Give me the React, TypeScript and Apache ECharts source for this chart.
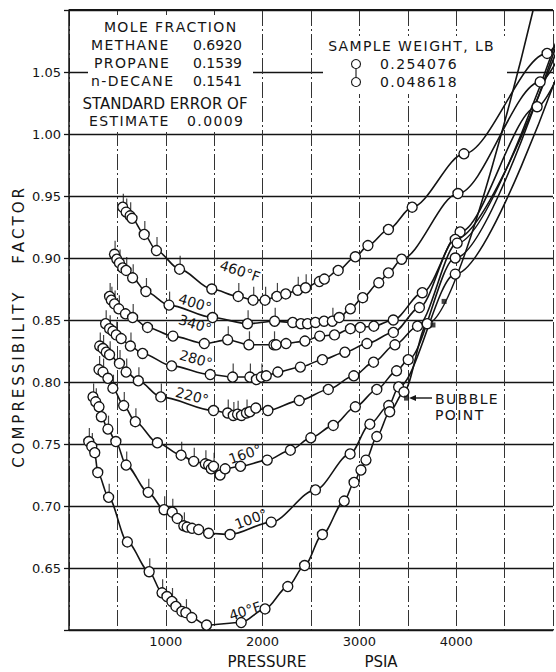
import React, { useEffect, useRef } from "react";
import * as echarts from "echarts";

// [pressure psia, compressibility factor, flag] flag: 0 = circle (0.254076 lb), 1 = flagged circle (0.048618 lb), 2 = line only
const T460: number[][] = [
  [555, 0.941, 1], [590, 0.937, 1], [631, 0.934, 1], [651, 0.932, 0], [777, 0.919, 1], [903, 0.906, 1],
  [1142, 0.891, 1], [1475, 0.875, 0], [1748, 0.869, 1], [1902, 0.866, 1], [2025, 0.866, 1], [2147, 0.869, 1],
  [2239, 0.871, 0], [2362, 0.874, 1], [2444, 0.876, 1], [2587, 0.881, 0], [2638, 0.883, 0], [2781, 0.89, 0],
  [2958, 0.901, 0], [3088, 0.91, 0], [3300, 0.923, 0], [3545, 0.941, 0], [4080, 0.984, 0], [4939, 1.065, 0],
  [5100, 1.082, 2],
];
const T400: number[][] = [
  [470, 0.903, 1], [494, 0.899, 0], [521, 0.896, 1], [555, 0.892, 0], [590, 0.89, 1], [657, 0.884, 1],
  [794, 0.873, 1], [1033, 0.862, 1], [1483, 0.852, 0], [1844, 0.847, 1], [2124, 0.849, 1], [2311, 0.848, 0],
  [2396, 0.847, 0], [2464, 0.847, 0], [2546, 0.848, 0], [2635, 0.849, 0], [2720, 0.849, 1], [2791, 0.852, 0],
  [2907, 0.859, 0], [3034, 0.868, 0], [3200, 0.88, 0], [3300, 0.888, 0], [3436, 0.899, 0], [4018, 0.952, 0],
  [4867, 1.042, 0], [5100, 1.068, 2],
];
const T340: number[][] = [
  [419, 0.869, 1], [437, 0.866, 1], [470, 0.863, 1], [514, 0.859, 1], [583, 0.855, 0], [657, 0.852, 1],
  [811, 0.844, 0], [1074, 0.837, 0], [1398, 0.831, 0], [1639, 0.834, 1], [1858, 0.83, 1], [2117, 0.83, 1],
  [2140, 0.83, 0], [2242, 0.831, 0], [2437, 0.833, 0], [2590, 0.837, 0], [2743, 0.838, 0], [2907, 0.843, 0],
  [3009, 0.844, 0], [3149, 0.845, 0], [3350, 0.85, 0], [3650, 0.872, 0], [4040, 0.921, 0], [4836, 1.022, 0],
  [5100, 1.055, 2],
];
const T280: number[][] = [
  [378, 0.847, 1], [419, 0.843, 1], [453, 0.841, 0], [488, 0.838, 1], [539, 0.835, 0], [634, 0.829, 1],
  [760, 0.823, 0], [1060, 0.813, 0], [1459, 0.806, 0], [1690, 0.804, 1], [1868, 0.804, 1], [1936, 0.802, 0],
  [1987, 0.804, 1], [2038, 0.805, 0], [2157, 0.808, 0], [2390, 0.812, 0], [2618, 0.818, 0], [2850, 0.824, 0],
  [3078, 0.831, 0], [3351, 0.84, 0], [3620, 0.86, 0], [3990, 0.915, 0], [5100, 1.08, 2],
];
const T220: number[][] = [
  [317, 0.829, 1], [351, 0.827, 1], [385, 0.824, 0], [419, 0.822, 1], [521, 0.815, 1], [590, 0.808, 1],
  [716, 0.801, 1], [948, 0.788, 1], [1493, 0.777, 0], [1639, 0.775, 1], [1697, 0.773, 1], [1741, 0.774, 1],
  [1782, 0.773, 0], [1833, 0.775, 1], [1868, 0.776, 0], [1930, 0.779, 0], [2055, 0.777, 0], [2379, 0.785, 0],
  [2679, 0.794, 0], [2942, 0.805, 0], [3146, 0.816, 0], [3367, 0.83, 0], [3600, 0.845, 0], [4010, 0.912, 0],
  [5100, 1.09, 2],
];
const T160: number[][] = [
  [310, 0.81, 1], [351, 0.808, 1], [402, 0.803, 0], [453, 0.795, 1], [565, 0.781, 1], [685, 0.768, 1],
  [913, 0.751, 0], [1158, 0.741, 1], [1288, 0.736, 1], [1408, 0.734, 1], [1442, 0.733, 0], [1469, 0.73, 0],
  [1493, 0.732, 1], [1561, 0.725, 0], [1613, 0.73, 0], [1772, 0.732, 0], [2048, 0.737, 0], [2287, 0.745, 0],
  [2498, 0.755, 0], [2730, 0.765, 0], [2958, 0.78, 0], [3180, 0.794, 0], [3384, 0.809, 0], [3504, 0.818, 0],
  [3990, 0.9, 0], [5100, 1.087, 2],
];
const T100: number[][] = [
  [248, 0.788, 1], [276, 0.784, 1], [310, 0.78, 0], [334, 0.772, 1], [402, 0.762, 1], [484, 0.752, 0],
  [590, 0.733, 1], [818, 0.711, 1], [982, 0.697, 1], [1066, 0.695, 1], [1118, 0.69, 0], [1186, 0.684, 1],
  [1220, 0.683, 0], [1271, 0.682, 0], [1339, 0.681, 0], [1442, 0.678, 0], [1664, 0.677, 0], [2089, 0.687, 0],
  [2546, 0.713, 0], [2904, 0.742, 0], [3108, 0.766, 0], [3303, 0.781, 0], [3405, 0.796, 0], [3990, 0.887, 0],
  [5100, 1.06, 2],
];
const T40: number[][] = [
  [204, 0.752, 1], [235, 0.748, 1], [266, 0.743, 0], [297, 0.727, 0], [409, 0.707, 1], [603, 0.671, 0],
  [828, 0.647, 1], [961, 0.63, 1], [1012, 0.627, 0], [1063, 0.623, 1], [1104, 0.619, 0], [1166, 0.615, 0],
  [1207, 0.614, 1], [1268, 0.61, 0], [1421, 0.604, 0], [1779, 0.606, 0], [2025, 0.617, 0], [2260, 0.635, 0],
  [2434, 0.652, 0], [2618, 0.677, 0], [2843, 0.704, 0], [2945, 0.719, 0], [3016, 0.729, 0], [3068, 0.737, 0],
  [3180, 0.756, 0], [3313, 0.776, 0], [3460, 0.792, 0], [3700, 0.847, 0], [4795, 1.1, 2],
];

const BUBBLE_POINTS: number[][] = [[3487, 0.787], [3760, 0.846], [3875, 0.865]];

const ISOTHERM_LABELS = ["460°F", "400°", "340°", "280°", "220°", "160°", "100°", "40°F"];

const MIXTURE_LINES = [
  ["METHANE", "0.6920"],
  ["PROPANE", "0.1539"],
  ["n-DECANE", "0.1541"],
];
const SAMPLE_WEIGHTS = ["0.254076", "0.048618"];

const FONT = '"DejaVu Sans", sans-serif';
const INK = "#141414";

const X0 = 69;
const Y0 = 10;
const PLOT_W = 489;
const PLOT_H = 620;

function txt(text: string, x: number, y: number, size: number, align = "center", rot = 0, z = 20) {
  return {
    type: "text",
    x,
    y,
    rotation: rot,
    z,
    silent: true,
    style: {
      text,
      x: 0,
      y: 0,
      fill: INK,
      fontSize: size,
      fontFamily: FONT,
      align,
      textAlign: align,
      verticalAlign: "middle",
      textVerticalAlign: "middle",
    },
  };
}

const thin = (s: string) => s.split("").join("\u2009");
const hair = (s: string) => s.split("").join("\u200A");

export default function App() {
  const ref = useRef<HTMLDivElement>(null);
  useEffect(() => {
    const chart = echarts.init(ref.current!, null, { renderer: "svg" });
    const isotherms = [T460, T400, T340, T280, T220, T160, T100, T40];
    const lineSeries = isotherms.map((iso, i) => ({
      type: "line",
      name: ISOTHERM_LABELS[i],
      smooth: 0.3,
      smoothMonotone: "x",
      showAllSymbol: true,
      symbol: "circle",
      symbolSize: 10,
      z: 3,
      silent: true,
      clip: true,
      itemStyle: { color: "#fff", borderColor: INK, borderWidth: 1.35 },
      lineStyle: { color: INK, width: 1.6 },
      emphasis: { disabled: true },
      data: iso.map((d) => (d[2] === 2 ? { value: [d[0], d[1]], symbol: "none" } : { value: [d[0], d[1]] })),
    }));
    const flagged: number[][] = [];
    isotherms.forEach((iso) => iso.forEach((d) => { if (d[2] === 1) flagged.push([d[0], d[1]]); }));

    const labelPos = [
      [240, 271, -0.32], [195, 303, -0.3], [195, 324, -0.3], [196, 359, -0.28],
      [192, 396, -0.26], [245, 454, 0.33], [251, 519, 0.36], [245, 611, 0.31],
    ];

    const graphic: any[] = [
      { type: "rect", z: 1, silent: true, shape: { x: 88, y: 15, width: 165, height: 117 }, style: { fill: "#fff" } },
      { type: "rect", z: 1, silent: true, shape: { x: 323, y: 36, width: 184, height: 58 }, style: { fill: "#fff" } },
      txt(hair("MOLE FRACTION"), 170, 27, 14),
      txt("STANDARD ERROR OF", 165, 104, 15),
      txt(hair("ESTIMATE"), 89, 121, 14, "left"),
      txt(hair("0.0009"), 187, 121, 14, "left"),
      txt(hair("SAMPLE WEIGHT, LB"), 411, 46, 14),
      txt(hair("BUBBLE"), 435, 399, 14, "left"),
      txt(hair("POINT"), 435, 415, 14, "left"),
      txt("PRESSURE", 267, 662, 15),
      txt("PSIA", 381, 662, 15),
      txt(thin("COMPRESSIBILITY") + "      " + thin("FACTOR"), 19, 328, 15, "center", Math.PI / 2),
      { type: "line", z: 20, silent: true, shape: { x1: 412, y1: 398, x2: 432, y2: 398 }, style: { stroke: INK, lineWidth: 1.4 } },
      { type: "polygon", z: 20, silent: true, shape: { points: [[409, 398], [416, 395], [416, 401]] }, style: { fill: INK } },
      { type: "circle", z: 20, silent: true, shape: { cx: 356, cy: 64, r: 4.5 }, style: { fill: "#fff", stroke: INK, lineWidth: 1.1 } },
      { type: "circle", z: 20, silent: true, shape: { cx: 356, cy: 82, r: 4.5 }, style: { fill: "#fff", stroke: INK, lineWidth: 1.1 } },
      { type: "line", z: 20, silent: true, shape: { x1: 356, y1: 69, x2: 356, y2: 77 }, style: { stroke: INK, lineWidth: 1.1 } },
      txt(hair(SAMPLE_WEIGHTS[0]), 380, 64, 14, "left"),
      txt(hair(SAMPLE_WEIGHTS[1]), 380, 82, 14, "left"),
    ];
    const mixX = [91, 94, 91];
    MIXTURE_LINES.forEach((m, i) => {
      const y = 45 + i * 18;
      graphic.push(txt(hair(m[0]), mixX[i], y, 14, "left"));
      graphic.push(txt(m[1], 193, y, 14, "left"));
    });
    ISOTHERM_LABELS.forEach((lab, i) => {
      const p = labelPos[i];
      graphic.push(txt(lab, p[0], p[1], 14, "center", p[2]));
    });

    chart.setOption({
      animation: false,
      backgroundColor: "#fff",
      grid: { left: X0, top: Y0, width: PLOT_W, height: PLOT_H, show: false },
      xAxis: {
        type: "value",
        min: 0,
        max: 5000,
        interval: 500,
        axisLine: { show: true, onZero: false, lineStyle: { color: INK, width: 1.5 } },
        axisTick: { show: false },
        axisLabel: {
          margin: 5,
          color: INK,
          fontSize: 13,
          fontFamily: FONT,
          formatter: (v: number) => (v > 0 && v < 5000 && v % 1000 === 0 ? String(v) : ""),
        },
        splitLine: { show: true, lineStyle: { color: "#333", width: 1, type: [16, 3, 2, 3] } },
      },
      yAxis: {
        type: "value",
        min: 0.6,
        max: 1.1,
        interval: 0.05,
        axisLine: { show: true, onZero: false, lineStyle: { color: INK, width: 1.5 } },
        axisTick: { show: true, length: 5, lineStyle: { color: INK, width: 1.3 } },
        axisLabel: {
          margin: 8,
          color: INK,
          fontSize: 13,
          fontFamily: FONT,
          formatter: (v: number) =>
            Math.abs(v - 0.6) < 1e-6 || Math.abs(v - 1.1) < 1e-6 ? "" : v.toFixed(2),
        },
        splitLine: { show: true, lineStyle: { color: INK, width: 1.3 } },
      },
      graphic,
      series: [
        {
          type: "line",
          silent: true,
          symbol: "none",
          z: 1,
          data: [[0, 1.1], [5000, 1.1]],
          lineStyle: { color: INK, width: 1.8 },
          clip: false,
        },
        ...lineSeries,
        {
          type: "scatter",
          silent: true,
          z: 2,
          symbol: "rect",
          symbolSize: [1.2, 9],
          symbolOffset: [0.6, -9],
          itemStyle: { color: INK },
          data: flagged,
        },
        {
          type: "scatter",
          silent: true,
          z: 5,
          symbol: "rect",
          symbolSize: 5,
          itemStyle: { color: INK },
          data: BUBBLE_POINTS,
        },
      ],
    });
    return () => chart.dispose();
  }, []);
  return (
    <div
      ref={ref}
      style={{ position: "absolute", left: 0, top: 0, width: 556, height: 672, background: "#fff" }}
    />
  );
}
